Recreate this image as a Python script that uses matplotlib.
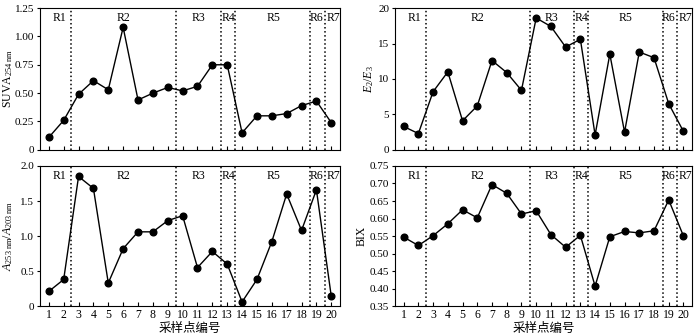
import matplotlib.pyplot as plt
from matplotlib.ticker import FuncFormatter

plt.rcParams['font.family'] = ['Liberation Serif', 'Noto Sans CJK SC', 'DejaVu Sans']
plt.rcParams['mathtext.fontset'] = 'custom'
plt.rcParams['mathtext.rm'] = 'Liberation Serif'
plt.rcParams['mathtext.it'] = 'Liberation Serif:italic'

# sampling points
sites = list(range(1, 21))

suva = [0.11, 0.26, 0.49, 0.61, 0.53, 1.08, 0.44, 0.50, 0.55, 0.52,
        0.56, 0.75, 0.75, 0.15, 0.30, 0.30, 0.32, 0.39, 0.43, 0.24]
e2e3 = [3.3, 2.3, 8.2, 11.0, 4.1, 6.2, 12.6, 10.9, 8.4, 18.6,
        17.4, 14.5, 15.6, 2.1, 13.5, 2.5, 13.8, 13.0, 6.5, 2.6]
a253 = [0.21, 0.38, 1.85, 1.68, 0.33, 0.82, 1.06, 1.06, 1.22, 1.29,
        0.55, 0.78, 0.60, 0.06, 0.38, 0.92, 1.60, 1.08, 1.66, 0.14]
bix = [0.547, 0.523, 0.551, 0.585, 0.625, 0.602, 0.697, 0.672, 0.613, 0.622,
       0.554, 0.518, 0.552, 0.407, 0.548, 0.563, 0.559, 0.565, 0.653, 0.550]

# region boundaries and labels
bounds = [2.52, 9.55, 12.6, 13.55, 18.58, 19.58]
regions = ['R1', 'R2', 'R3', 'R4', 'R5', 'R6', 'R7']
region_x = [1.75, 6.0, 11.05, 13.1, 16.1, 19.0, 20.12]

fig = plt.figure(figsize=(7, 3.36), dpi=100)

L1, W1 = 0.057, 0.429
L2, W2 = 0.564, 0.425
B_top, H_top = 0.554, 0.422
B_bot, H_bot = 0.089, 0.417

panels = [
    ([L1, B_top, W1, H_top], suva, (0, 1.25), [0, 0.25, 0.5, 0.75, 1.0, 1.25],
     r'SUVA$_{\mathrm{254\ nm}}$', '{:.2f}', False, -0.082),
    ([L2, B_top, W2, H_top], e2e3, (0, 20), [0, 5, 10, 15, 20],
     r'$E_2/E_3$', '{:.0f}', False, -0.064),
    ([L1, B_bot, W1, H_bot], a253, (0, 2.0), [0, 0.5, 1.0, 1.5, 2.0],
     r'$A_{\mathrm{253\ nm}}/A_{\mathrm{203\ nm}}$', '{:.1f}', True, -0.084),
    ([L2, B_bot, W2, H_bot], bix, (0.35, 0.75), [0.35, 0.40, 0.45, 0.50, 0.55, 0.60, 0.65, 0.70, 0.75],
     'BIX', '{:.2f}', True, -0.091),
]

for rect, vals, ylim, yticks, ylabel, fmt, bottom, lx in panels:
    ax = fig.add_axes(rect)
    ax.plot(sites, vals, color='black', lw=1.0, marker='o', ms=4.8)
    for b in bounds:
        ax.axvline(b, color='black', ls=':', lw=1.1)
    for r, rx in zip(regions, region_x):
        ax.text(rx, ylim[1] - (ylim[1] - ylim[0]) * 0.03, r, ha='center', va='top', fontsize=8.5)
    ax.set_xlim(0.4, 20.6)
    ax.set_ylim(*ylim)
    ax.set_xticks(sites)
    ax.set_yticks(yticks)
    ax.yaxis.set_major_formatter(FuncFormatter(lambda v, p, f=fmt: '0' if v == 0 else f.format(v)))
    ax.tick_params(axis='x', direction='in', length=3, labelsize=8.5, pad=2)
    ax.tick_params(axis='y', direction='out', length=2.5, labelsize=8, pad=1.5)
    ax.set_ylabel(ylabel, fontsize=8.5)
    ax.yaxis.set_label_coords(lx, 0.5)
    if bottom:
        ax.set_xlabel('采样点编号', fontsize=9, labelpad=1, family=['Noto Sans CJK SC', 'DejaVu Sans'])
    else:
        ax.tick_params(axis='x', labelbottom=False)
    for s in ax.spines.values():
        s.set_linewidth(0.8)

fig.savefig('out.png', dpi=100)
